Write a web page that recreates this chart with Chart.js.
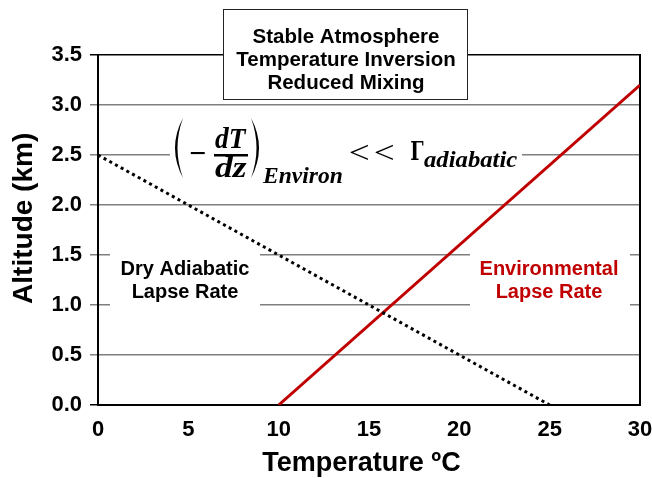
<!DOCTYPE html>
<html>
<head>
<meta charset="utf-8">
<script src="https://cdn.jsdelivr.net/npm/chart.js@4.4.1/dist/chart.umd.min.js"></script>
<style>
  html, body { margin: 0; padding: 0; background: #fff; }
  #wrap { width: 652px; height: 478px; }
</style>
</head>
<body>
<div id="wrap"><canvas id="chart" width="652" height="478"></canvas></div>
<script>
// data
const dryTemp = [0, 25];
const dryAlt = [2.5, 0];
const envTemp = [10, 30];
const envAlt = [0, 3.2];
const xTicks = [0, 5, 10, 15, 20, 25, 30];
const yTicks = [0, 0.5, 1, 1.5, 2, 2.5, 3, 3.5];

const SANS = "'Liberation Sans', Arial, sans-serif";
const SERIF = "'Liberation Serif', 'Times New Roman', serif";

function toPoints(xs, ys) {
  return xs.map((x, i) => ({ x: x, y: ys[i] }));
}

// draw text so its ink spans exactly [x, x + w]
function fitText(ctx, str, x, y, w, font) {
  ctx.save();
  ctx.font = font;
  ctx.textAlign = "left";
  ctx.textBaseline = "alphabetic";
  const m = ctx.measureText(str);
  const ink = m.actualBoundingBoxLeft + m.actualBoundingBoxRight;
  const sx = w / ink;
  ctx.translate(x + m.actualBoundingBoxLeft * sx, y);
  ctx.scale(sx, 1);
  ctx.fillText(str, 0, 0);
  ctx.restore();
}

function paren(ctx, x0, xOut, xIn, top, bottom) {
  const mid = (top + bottom) / 2;
  ctx.beginPath();
  ctx.moveTo(x0, top);
  ctx.quadraticCurveTo(xOut, mid, x0, bottom);
  ctx.quadraticCurveTo(xIn, mid, x0, top);
  ctx.fill();
}

const overlay = {
  id: "overlay",
  beforeDatasetsDraw(chart) {
    const { ctx, chartArea: a } = chart;
    ctx.save();
    ctx.strokeStyle = "#000";
    ctx.lineWidth = 2;
    ctx.beginPath();
    ctx.moveTo(a.right, a.top - 1);
    ctx.lineTo(a.right, a.bottom + 1);
    ctx.stroke();
    // white patches behind the labels
    ctx.fillStyle = "#fff";
    ctx.fillRect(110, 244, 150, 70);
    ctx.fillRect(470, 244, 160, 70);
    ctx.fillRect(170, 112, 352, 86);
    ctx.restore();
  },
  afterDraw(chart) {
    const ctx = chart.ctx;
    ctx.save();

    // title box
    ctx.fillStyle = "#fff";
    ctx.fillRect(223.5, 9.5, 244, 90);
    ctx.strokeStyle = "#222";
    ctx.lineWidth = 1;
    ctx.strokeRect(223.5, 9.5, 244, 90);
    ctx.fillStyle = "#000";
    ctx.textAlign = "center";
    ctx.textBaseline = "alphabetic";
    ctx.font = "bold 20.5px " + SANS;
    ctx.fillText("Stable Atmosphere", 346, 43);
    ctx.fillText("Temperature Inversion", 346, 66);
    ctx.fillText("Reduced Mixing", 346, 89);

    // curve labels
    ctx.font = "bold 20px " + SANS;
    ctx.fillText("Dry Adiabatic", 185, 275);
    ctx.fillText("Lapse Rate", 185, 298);
    ctx.fillStyle = "#C00000";
    ctx.fillText("Environmental", 549, 275);
    ctx.fillText("Lapse Rate", 549, 298);

    // equation (-dT/dz)_Environ << Γ_adiabatic
    ctx.fillStyle = "#000";
    paren(ctx, 183, 167, 172, 118, 178);
    paren(ctx, 251, 267, 262, 118, 178);
    fitText(ctx, "\u2212", 190, 163, 15, "bold 30px " + SERIF);
    fitText(ctx, "dT", 215, 148, 32, "bold italic 30px " + SERIF);
    ctx.fillRect(214, 154, 34, 2.5);
    fitText(ctx, "dz", 215, 177, 32, "bold italic 30px " + SERIF);
    fitText(ctx, "Environ", 262, 183, 80, "bold italic 23px " + SERIF);
    fitText(ctx, "<", 350, 163, 18, "31px " + SERIF);
    fitText(ctx, "<", 375, 163, 18, "31px " + SERIF);
    fitText(ctx, "\u0393", 411, 160, 13, "bold 26px 'DejaVu Serif', serif");
    fitText(ctx, "adiabatic", 424, 167, 93, "bold italic 23px " + SERIF);

    ctx.restore();
  }
};

new Chart(document.getElementById("chart"), {
  type: "scatter",
  data: {
    datasets: [
      {
        label: "Dry Adiabatic Lapse Rate",
        data: toPoints(dryTemp, dryAlt),
        showLine: true,
        borderColor: "#000",
        borderWidth: 3,
        borderDash: [3, 3.5],
        pointRadius: 0
      },
      {
        label: "Environmental Lapse Rate",
        data: toPoints(envTemp, envAlt),
        showLine: true,
        borderColor: "#C00000",
        borderWidth: 3,
        pointRadius: 0
      }
    ]
  },
  options: {
    responsive: false,
    animation: false,
    devicePixelRatio: 1,
    layout: { padding: { top: 55, right: 0, left: 0, bottom: 0 } },
    plugins: {
      legend: { display: false },
      tooltip: { enabled: false }
    },
    scales: {
      x: {
        type: "linear",
        min: 0,
        max: 30,
        afterBuildTicks: (s) => { s.ticks = xTicks.map((v) => ({ value: v })); },
        afterFit: (s) => { s.height = 73; s.paddingRight = 12; },
        grid: { display: false, drawTicks: false },
        border: { display: true, color: "#000", width: 2 },
        ticks: {
          padding: 12,
          color: "#000",
          maxRotation: 0,
          font: { family: SANS, size: 22, weight: "bold" }
        },
        title: {
          display: true,
          text: "Temperature \u00baC  ",
          color: "#000",
          padding: { top: 0, bottom: 1 },
          font: { family: SANS, size: 27, weight: "bold", lineHeight: 1 }
        }
      },
      y: {
        type: "linear",
        min: 0,
        max: 3.5,
        afterBuildTicks: (s) => { s.ticks = yTicks.map((v) => ({ value: v })); },
        afterFit: (s) => { s.width = 98; },
        grid: {
          drawTicks: true,
          tickLength: 8,
          lineWidth: 1.5,
          color: (c) => (c.tick && (c.tick.value === 3.5 || c.tick.value === 0) ? "#000" : "#7f7f7f")
        },
        border: { display: true, color: "#000", width: 2 },
        ticks: {
          padding: 8,
          color: "#000",
          font: { family: SANS, size: 22, weight: "bold" },
          callback: (v) => Number(v).toFixed(1)
        },
        title: {
          display: true,
          text: "   Altitude (km)",
          color: "#000",
          padding: { top: 10, bottom: 0 },
          font: { family: SANS, size: 28, weight: "bold", lineHeight: 1 }
        }
      }
    }
  },
  plugins: [overlay]
});
</script>
</body>
</html>
